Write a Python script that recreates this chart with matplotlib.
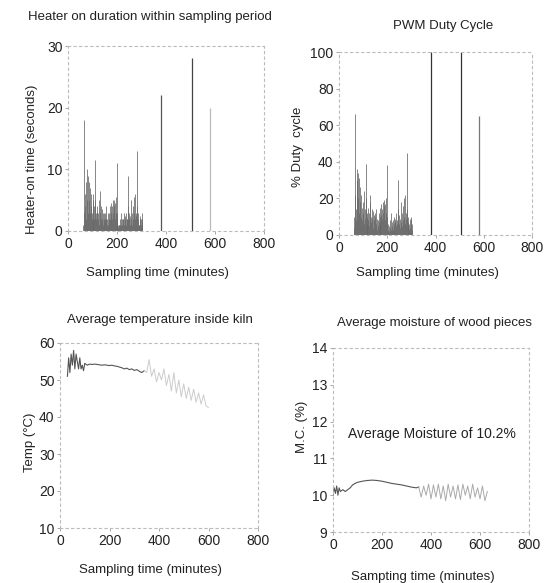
import matplotlib
matplotlib.use("Agg")
import matplotlib.pyplot as plt

plt.rcParams['font.family'] = ['Liberation Sans', 'DejaVu Sans']

# PWM duty cycle / heater samples (minutes)
burst_time = [62, 64, 66, 68, 70, 72, 74, 76, 78, 80, 82, 84, 86, 88, 90, 92, 94, 96, 98, 100,
              102, 104, 106, 108, 110, 112, 114, 116, 118, 120, 122, 124, 126, 128, 130, 132, 134, 136, 138, 140,
              142, 144, 146, 148, 150, 152, 154, 156, 158, 160, 162, 164, 166, 168, 170, 172, 174, 176, 178, 180,
              182, 184, 186, 188, 190, 192, 194, 196, 198, 200, 202, 204, 206, 208, 210, 212, 214, 216, 218, 220,
              222, 224, 226, 228, 230, 232, 234, 236, 238, 240, 242, 244, 246, 248, 250, 252, 254, 256, 258, 260,
              262, 264, 266, 268, 270, 272, 274, 276, 278, 280, 282, 284, 286, 288, 290, 292, 294, 296, 298, 300,
              302, 304]
duty_vals = [4, 10, 66, 22, 14, 8, 30, 36, 20, 34, 12, 31, 18, 26, 10, 22, 15, 8, 12, 18,
             6, 24, 14, 9, 20, 39, 12, 6, 10, 15, 8, 12, 5, 18, 22, 10, 7, 14, 9, 13,
             4, 11, 8, 12, 10, 6, 14, 9, 3, 8, 5, 12, 7, 10, 15, 6, 11, 17, 9, 14,
             18, 12, 16, 19, 8, 17, 12, 20, 10, 38, 6, 3, 2, 5, 4, 8, 3, 12, 5, 7,
             3, 8, 6, 10, 4, 7, 9, 5, 12, 8, 6, 14, 30, 11, 6, 9, 4, 18, 7, 12,
             5, 16, 8, 20, 10, 6, 22, 12, 9, 45, 14, 7, 10, 5, 3, 6, 9, 4, 8, 10,
             6, 3]
heater_vals = [1, 3, 18, 6, 4, 2, 8, 10, 5, 9, 3, 8, 5, 7, 3, 6, 4, 2, 3, 5,
               2, 6, 4, 2, 5, 11.5, 3, 2, 3, 4, 2, 3, 1, 5, 6.5, 3, 2, 4, 2, 3.5,
               1, 3, 2, 3, 3, 2, 4, 2, 1, 2, 1, 3, 2, 3, 4, 2, 3, 4.5, 2, 4,
               5, 3, 4, 5, 2, 4.5, 3, 5.5, 3, 11, 2, 1, 0.5, 1, 1, 2, 1, 3, 1, 2,
               1, 2, 2, 3, 1, 2, 2.5, 1, 3, 2, 2, 4, 9, 3, 2, 2.5, 1, 5, 2, 3,
               1, 4, 2, 5.5, 3, 2, 6, 3, 2.5, 13, 4, 2, 3, 1, 1, 2, 2.5, 1, 2, 3,
               2, 1]
spike_time = [380, 505, 580]
duty_spikes = [100, 100, 65]
heater_spikes = [22, 28, 20]

# average kiln temperature
temp_time = [30, 35, 40, 45, 50, 55, 60, 65, 70, 75, 80, 85, 90, 95, 100, 110, 120, 130, 140, 150,
             160, 170, 180, 190, 200, 210, 220, 230, 240, 250, 260, 270, 280, 290, 300, 310, 320, 330, 340]
temp_vals = [51, 56, 52, 57, 54, 58, 53, 57, 55, 53, 56, 53, 54, 52.5, 54.5, 54, 54.3, 54.2, 54.3, 54.2,
             54.1, 54.0, 54.1, 54.0, 53.9, 54.0, 53.8, 53.7, 53.5, 53.3, 53.0, 53.2, 52.8, 53.0, 52.6, 52.8, 52.4, 52.0, 52.5]
temp_late_time = [340, 350, 360, 370, 380, 390, 400, 410, 420, 430, 440, 450, 460, 470, 480, 490, 500,
                  510, 520, 530, 540, 550, 560, 570, 580, 590, 600]
temp_late_vals = [52.5, 52.0, 55.5, 51.0, 53.0, 49.5, 52.0, 50.0, 53.0, 48.5, 51.5, 47.0, 52.0, 46.5, 50.0, 45.5, 49.0,
                  45.0, 48.0, 44.5, 47.5, 44.0, 46.5, 43.5, 46.0, 43.0, 42.5]

# average moisture content
mc_time = [0, 5, 10, 15, 20, 25, 30, 40, 50, 60, 70, 80, 90, 100, 120, 140, 160, 180, 200, 220,
           240, 260, 280, 300, 320, 340, 350]
mc_vals = [10.0, 10.2, 10.05, 10.25, 10.0, 10.2, 10.1, 10.15, 10.1, 10.15, 10.2, 10.28, 10.32, 10.35, 10.38, 10.4,
           10.41, 10.4, 10.38, 10.35, 10.32, 10.3, 10.28, 10.25, 10.22, 10.2, 10.22]
mc_late_time = [350, 360, 370, 380, 390, 400, 410, 420, 430, 440, 450, 460, 470, 480, 490, 500, 510, 520, 530,
                540, 550, 560, 570, 580, 590, 600, 610, 620, 630]
mc_late_vals = [10.22, 9.95, 10.25, 10.0, 10.3, 9.9, 10.28, 9.95, 10.3, 9.9, 10.25, 9.85, 10.3, 9.95, 10.25, 9.9,
                10.28, 9.88, 10.3, 10.0, 10.25, 9.9, 10.3, 9.95, 10.2, 9.9, 10.25, 9.85, 10.1]

W, H = 546, 583
fig = plt.figure(figsize=(W / 100, H / 100), dpi=100)


def make_ax(x0, x1, y0, y1):
    ax = fig.add_axes([x0 / W, 1 - y1 / H, (x1 - x0) / W, (y1 - y0) / H])
    for s in ax.spines.values():
        s.set_linestyle((0, (2, 3)))
        s.set_color('#bbbbbb')
        s.set_linewidth(0.8)
    ax.tick_params(length=2, width=0.6, color='#999999', labelsize=10, labelcolor='#222222', pad=2)
    ax.set_xlim(0, 800)
    ax.set_xticks([0, 200, 400, 600, 800])
    return ax


def ftext(x, y, s, size=9.5, rot=0):
    fig.text(x / W, 1 - y / H, s, ha='center', va='center', fontsize=size, rotation=rot, color='#222222')


# heater on time
ax1 = make_ax(68, 264, 46, 231)
ax1.vlines(burst_time, 0, heater_vals, color='#666666', lw=0.55)
ax1.vlines(spike_time, 0, heater_spikes, color=['#555555', '#444444', '#bbbbbb'], lw=0.9)
ax1.set_ylim(0, 30)
ax1.set_yticks([0, 10, 20, 30])
ftext(150, 17, "Heater on duration within sampling period")
ftext(157, 273, "Sampling time (minutes)")
ftext(32, 159, "Heater-on time (seconds)", rot=90)

# duty cycle
ax2 = make_ax(339, 532, 52, 235)
ax2.vlines(burst_time, 0, duty_vals, color='#666666', lw=0.55)
ax2.vlines(spike_time, 0, duty_spikes, color=['#333333', '#333333', '#777777'], lw=0.9)
ax2.set_ylim(0, 100)
ax2.set_yticks([0, 20, 40, 60, 80, 100])
ftext(443, 26, "PWM Duty Cycle")
ftext(427, 273, "Sampling time (minutes)")
ftext(298, 147, "% Duty  cycle", rot=90)

# temperature
ax3 = make_ax(60, 258, 343, 528)
ax3.plot(temp_time, temp_vals, color='#555555', lw=0.8)
ax3.plot(temp_late_time, temp_late_vals, color='#cccccc', lw=0.7)
ax3.set_ylim(10, 60)
ax3.set_yticks([10, 20, 30, 40, 50, 60])
ftext(160, 320, "Average temperature inside kiln")
ftext(150, 570, "Sampling time (minutes)")
ftext(30, 442, "Temp (°C)", rot=90)

# moisture
ax4 = make_ax(333, 529, 348, 532)
ax4.plot(mc_time, mc_vals, color='#555555', lw=0.8)
ax4.plot(mc_late_time, mc_late_vals, color='#aaaaaa', lw=0.7)
ax4.set_ylim(9, 14)
ax4.set_yticks([9, 10, 11, 12, 13, 14])
ax4.text(60, 11.65, "Average Moisture of 10.2%", fontsize=10, color='#222222', va='center')
ftext(435, 323, "Average moisture of wood pieces")
ftext(423, 577, "Sampting time (minutes)")
ftext(302, 427, "M.C. (%)", rot=90)

fig.savefig("out.png", dpi=100)
